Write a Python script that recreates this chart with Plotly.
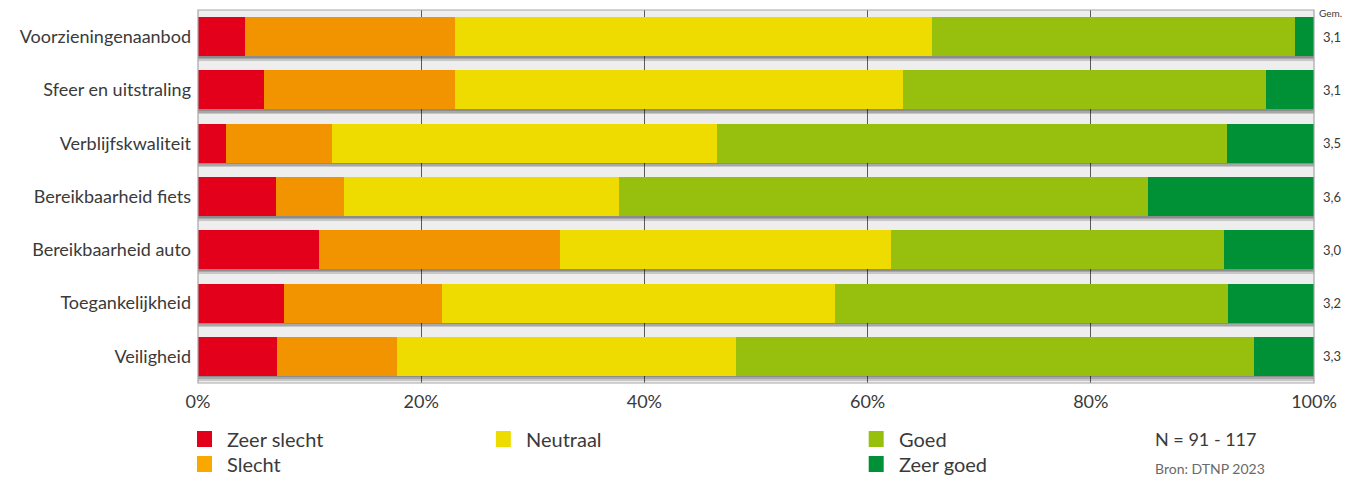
import numpy as np
import plotly.graph_objects as go

# Survey items, top to bottom
categories = [
    "Voorzieningenaanbod",
    "Sfeer en uitstraling",
    "Verblijfskwaliteit",
    "Bereikbaarheid fiets",
    "Bereikbaarheid auto",
    "Toegankelijkheid",
    "Veiligheid",
]

# Share of answers per rating (%)
zeer_slecht = [4.2, 5.9, 2.5, 7.0, 10.8, 7.7, 7.1]
slecht = [18.8, 17.1, 9.5, 6.1, 21.6, 14.2, 10.7]
neutraal = [42.8, 40.2, 34.5, 24.6, 29.7, 35.2, 30.4]
goed = [32.5, 32.5, 45.7, 47.4, 29.8, 35.2, 46.4]
zeer_goed = [1.7, 4.3, 7.8, 14.9, 8.1, 7.7, 5.4]

# Average score per item
gemiddelde = ["3,1", "3,1", "3,5", "3,6", "3,0", "3,2", "3,3"]

series_names = ["Zeer slecht", "Slecht", "Neutraal", "Goed", "Zeer goed"]
series_values = [zeer_slecht, slecht, neutraal, goed, zeer_goed]
bar_colors = ["#e2001a", "#f29400", "#eedc00", "#97bf0d", "#009036"]
swatch_colors = ["#e2001a", "#f9a800", "#eedc00", "#97bf0d", "#009036"]

x_ticks = [0, 20, 40, 60, 80, 100]
x_ticklabels = ["0%", "20%", "40%", "60%", "80%", "100%"]

FONT = "Lato"
TEXT = "#3a3a3a"
BAR_W = 0.73

fig = go.Figure()

vals = np.array(series_values, dtype=float)
totals = vals.sum(axis=0)

# soft drop shadow under every bar
for d in (0.03, 0.06, 0.09):
    fig.add_trace(go.Bar(
        y=categories, x=totals, base=0, orientation="h",
        width=BAR_W, offset=-BAR_W / 2 + d,
        marker=dict(color="rgba(0,0,0,0.16)", line=dict(width=0)),
        showlegend=False, hoverinfo="skip",
    ))

bases = np.vstack([np.zeros(len(categories)), np.cumsum(vals, axis=0)[:-1]])
for name, v, b, c in zip(series_names, vals, bases, bar_colors):
    fig.add_trace(go.Bar(
        y=categories, x=v, base=b, orientation="h", name=name,
        width=BAR_W, offset=-BAR_W / 2,
        marker=dict(color=c, line=dict(width=0)),
        showlegend=False,
    ))

# average score column on the right
fig.add_annotation(x=1.0, y=1.0, xref="paper", yref="paper", text="Gem.",
                   showarrow=False, xanchor="left", yanchor="middle",
                   xshift=3, yshift=-3, font=dict(family=FONT, size=10, color=TEXT))
for cat, g in zip(categories, gemiddelde):
    fig.add_annotation(x=100, y=cat, xref="x", yref="y", text=g, showarrow=False,
                       xanchor="left", xshift=7, font=dict(family=FONT, size=13, color=TEXT))

# legend laid out in three columns
legend_pos = [(0, 0), (0, 1), (1, 0), (2, 0), (2, 1)]
col_x = [197, 496, 869]
row_y = [439, 464]
W, H = 1355, 479
for (col, row), name, c in zip(legend_pos, series_names, swatch_colors):
    x0 = col_x[col]
    yc = row_y[row]
    fig.add_shape(type="rect", xref="paper", yref="paper",
                  x0=(x0 - 198) / 1116.5, x1=(x0 + 15 - 198) / 1116.5,
                  y0=(383 - (yc + 8)) / 373, y1=(383 - (yc - 8)) / 373,
                  fillcolor=c, line=dict(width=0))
    fig.add_annotation(x=(x0 + 28 - 198) / 1116.5, y=(383 - yc) / 373,
                       xref="paper", yref="paper", text=name, showarrow=False,
                       xanchor="left", yanchor="middle",
                       font=dict(family=FONT, size=20, color=TEXT))

fig.add_annotation(x=(1153 - 198) / 1116.5, y=(383 - 439) / 373, xref="paper", yref="paper",
                   text="N = 91 - 117", showarrow=False, xanchor="left", yanchor="middle",
                   font=dict(family=FONT, size=18, color=TEXT))
fig.add_annotation(x=(1153 - 198) / 1116.5, y=(383 - 468) / 373, xref="paper", yref="paper",
                   text="Bron: DTNP 2023", showarrow=False, xanchor="left", yanchor="middle",
                   font=dict(family=FONT, size=14, color="#6a6a6a"))

# plot frame
fig.add_shape(type="rect", xref="paper", yref="paper", x0=0, x1=1, y0=0, y1=1,
              line=dict(color="#a6a6a6", width=1.2), layer="above")

fig.update_layout(
    width=W, height=H,
    margin=dict(l=198, r=40.5, t=10, b=96),
    barmode="overlay",
    paper_bgcolor="white",
    plot_bgcolor="#eeeeee",
    showlegend=False,
    bargap=0,
    font=dict(family=FONT, color=TEXT),
    xaxis=dict(
        range=[0, 100], tickvals=x_ticks, ticktext=x_ticklabels,
        showgrid=True, gridcolor="#5a5a5a", gridwidth=1,
        zeroline=False, showline=False, ticks="",
        ticklabelstandoff=6,
        tickfont=dict(family=FONT, size=18, color=TEXT),
    ),
    yaxis=dict(
        categoryorder="array", categoryarray=categories,
        autorange="reversed", showgrid=False, zeroline=False, ticks="",
        ticklabelstandoff=6,
        tickfont=dict(family=FONT, size=18, color=TEXT),
    ),
)

fig.write_html("out.html")
